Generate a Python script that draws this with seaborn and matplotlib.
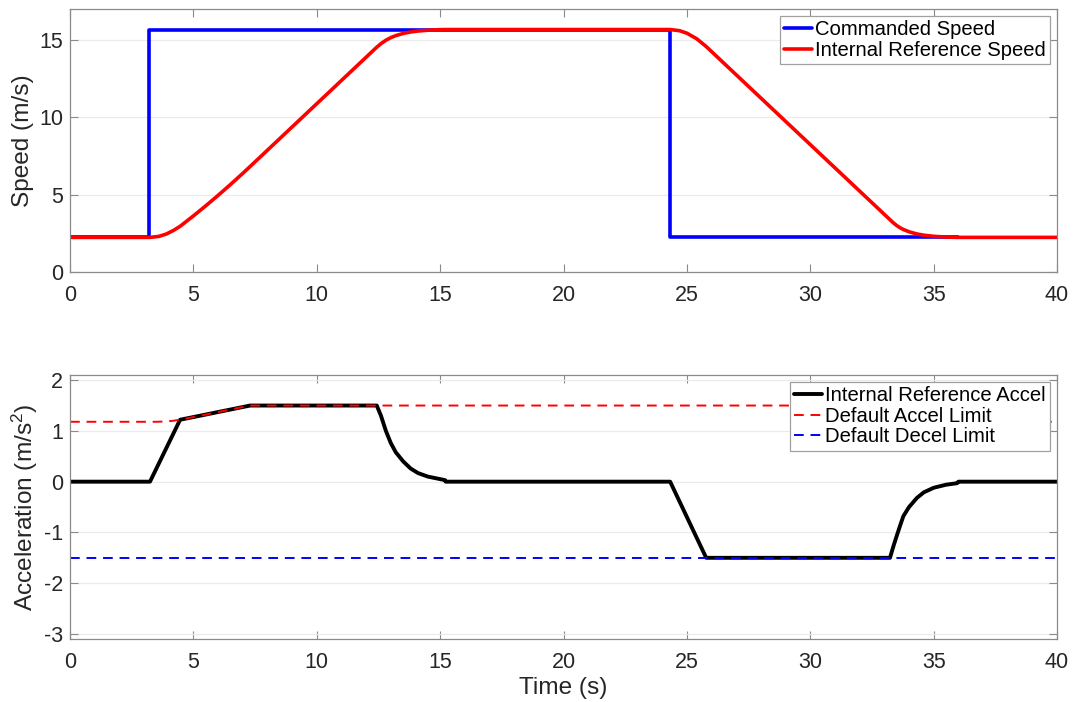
import numpy as np
import pandas as pd
import matplotlib
matplotlib.use("Agg")
import matplotlib.pyplot as plt
import seaborn as sns

# ---------------- data ----------------
time_cmd = [0.0, 3.2, 3.2, 24.3, 24.3, 36.0]
speed_cmd = [2.235, 2.235, 15.646, 15.646, 2.235, 2.235]

time_ref = [0.0, 3.24, 3.6, 3.9, 4.2, 4.46, 5.0, 5.5, 6.0, 6.5, 7.0, 7.3,
            8.0, 9.0, 10.0, 11.0, 12.0, 12.43, 12.6, 12.8, 13.0, 13.2, 13.5,
            13.8, 14.1, 14.5, 14.9, 15.2, 24.32, 24.7, 25.0, 25.4, 25.78,
            26.5, 28.0, 30.0, 32.0, 33.23, 33.35, 33.5, 33.65, 33.77, 34.0,
            34.32, 34.6, 35.0, 35.5, 35.95, 40.0]
speed_ref = [2.235, 2.235, 2.299, 2.451, 2.692, 2.95, 3.623, 4.272, 4.946,
             5.644, 6.367, 6.812, 7.862, 9.362, 10.862, 12.362, 13.862,
             14.507, 14.735, 14.956, 15.125, 15.253, 15.394, 15.489, 15.551,
             15.603, 15.634, 15.646, 15.646, 15.572, 15.409, 15.047, 14.551,
             13.471, 11.221, 8.221, 5.221, 3.376, 3.194, 3.001, 2.845, 2.745,
             2.598, 2.456, 2.376, 2.305, 2.256, 2.235, 2.235]

time_acc = [0.0, 3.24, 4.46, 5.0, 6.0, 7.3, 12.43, 12.6, 12.8, 13.0, 13.2,
            13.5, 13.8, 14.1, 14.5, 14.9, 15.2, 15.22, 24.32, 25.78, 33.23,
            33.35, 33.5, 33.65, 33.77, 34.0, 34.32, 34.6, 35.0, 35.5, 35.95,
            36.0, 40.0]
accel_ref = [0.0, 0.0, 1.22, 1.273, 1.372, 1.5, 1.5, 1.3, 1.0, 0.76, 0.58,
             0.40, 0.26, 0.17, 0.10, 0.06, 0.03, 0.0, 0.0, -1.5, -1.5,
             -1.3, -1.07, -0.85, -0.68, -0.5, -0.32, -0.21, -0.12, -0.06,
             -0.03, 0.0, 0.0]

time_lim = [0.0, 3.5, 3.8, 4.1, 4.46, 7.3, 30.9, 31.5, 32.0, 32.5, 33.23,
            34.0, 35.0, 36.0, 40.0]
accel_lim = [1.18, 1.18, 1.185, 1.195, 1.22, 1.5, 1.5, 1.44, 1.384, 1.33,
             1.251, 1.195, 1.18, 1.18, 1.18]

time_dec = [0.0, 40.0]
decel_lim = [-1.5, -1.5]

x_ticks = [0, 5, 10, 15, 20, 25, 30, 35, 40]
speed_ticks = [0, 5, 10, 15]
accel_ticks = [-3, -2, -1, 0, 1, 2]

# ---------------- style ----------------
sns.set_theme(style="white")
plt.rcParams["font.family"] = ["Liberation Sans", "DejaVu Sans"]
plt.rcParams["mathtext.fontset"] = "custom"
plt.rcParams["mathtext.rm"] = "Liberation Sans"
plt.rcParams["mathtext.it"] = "Liberation Sans:italic"
plt.rcParams["mathtext.default"] = "regular"
plt.rcParams["axes.unicode_minus"] = False

TXT = "#262626"
EDGE = "#8a8a8a"
GRID = "#ebebeb"

fig = plt.figure(figsize=(10.76, 7.02), dpi=100)
ax1 = fig.add_axes([0.0651, 0.6125, 0.9173, 0.3742])
ax2 = fig.add_axes([0.0651, 0.0897, 0.9173, 0.3760])

df_cmd = pd.DataFrame({"t": time_cmd, "v": speed_cmd})
df_ref = pd.DataFrame({"t": time_ref, "v": speed_ref})
df_acc = pd.DataFrame({"t": time_acc, "a": accel_ref})
df_lim = pd.DataFrame({"t": time_lim, "a": accel_lim})
df_dec = pd.DataFrame({"t": time_dec, "a": decel_lim})

sns.lineplot(data=df_cmd, x="t", y="v", ax=ax1, estimator=None, sort=False,
             color="#0000ff", linewidth=2.6, label="Commanded Speed")
sns.lineplot(data=df_ref, x="t", y="v", ax=ax1, estimator=None, sort=False,
             color="#ff0000", linewidth=2.6, label="Internal Reference Speed")

sns.lineplot(data=df_acc, x="t", y="a", ax=ax2, estimator=None, sort=False,
             color="#000000", linewidth=2.8, label="Internal Reference Accel")
sns.lineplot(data=df_lim, x="t", y="a", ax=ax2, estimator=None, sort=False,
             color="#ff0000", linewidth=1.4, linestyle=(0, (5, 3.5)),
             label="Default Accel Limit")
sns.lineplot(data=df_dec, x="t", y="a", ax=ax2, estimator=None, sort=False,
             color="#0000ff", linewidth=1.4, linestyle=(0, (5, 3.5)),
             label="Default Decel Limit")

for ax, yt, ylim in [(ax1, speed_ticks, (0, 16.95)), (ax2, accel_ticks, (-3.1, 2.1))]:
    ax.set_xlim(0, 40)
    ax.set_ylim(*ylim)
    ax.set_xticks(x_ticks)
    ax.set_yticks(yt)
    ax.grid(False)
    ax.yaxis.grid(True, color=GRID, linewidth=0.9)
    ax.set_axisbelow(True)
    for s in ax.spines.values():
        s.set_visible(True)
        s.set_color(EDGE)
        s.set_linewidth(0.9)
    ax.tick_params(axis="both", which="major", direction="in", length=6,
                   width=0.8, color=EDGE, labelcolor=TXT, labelsize=15.5,
                   top=True, right=True, bottom=True, left=True)
    ax.tick_params(axis="x", pad=9.5)
    ax.tick_params(axis="y", pad=5)
    ax.set_xlabel("")

ax1.set_ylabel("Speed (m/s)", fontsize=17.6, color=TXT, labelpad=4)
ax2.set_ylabel("Acceleration (m/s$^2$)", fontsize=17.6, color=TXT, labelpad=3)
ax2.set_xlabel("Time (s)", fontsize=17.6, color=TXT, labelpad=2.5)

leg_kw = dict(loc="upper right", fontsize=14.6, frameon=True, fancybox=False,
              framealpha=1.0, edgecolor="#a0a0a0", borderpad=0.2,
              handlelength=1.4, handletextpad=0.15, labelspacing=0.08,
              borderaxespad=0.35)
l1 = ax1.legend(**leg_kw)
l1.get_frame().set_linewidth(0.9)
for t in l1.get_texts():
    t.set_color("#000000")
l2 = ax2.legend(**leg_kw)
l2.get_frame().set_linewidth(0.9)
for t in l2.get_texts():
    t.set_color("#000000")

fig.savefig("out.png", dpi=100, facecolor="white")
